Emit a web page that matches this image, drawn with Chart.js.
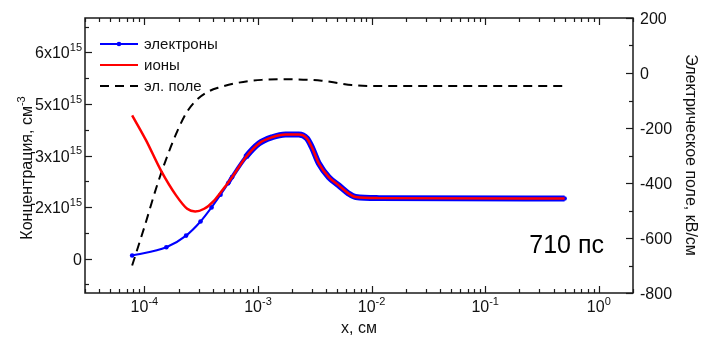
<!DOCTYPE html>
<html>
<head>
<meta charset="utf-8">
<script src="https://cdn.jsdelivr.net/npm/chart.js@4.4.1/dist/chart.umd.min.js"></script>
<style>
  html, body { margin: 0; padding: 0; background: #fff; }
  canvas { display: block; }
</style>
</head>
<body>
<canvas id="chart" width="701" height="344"></canvas>
<script>
// electrons: separate dots near the surface, then they merge with the ion curve
var xElectronsHead = [7.8e-5, 1.56e-4, 2.33e-4, 3.12e-4, 3.9e-4, 4.68e-4, 5.46e-4];
var electronsHead  = [0.09e15, 0.33e15, 0.67e15, 1.08e15, 1.49e15, 1.86e15, 2.19e15];

// ions before the two curves join
var xIonsHead = [7.8e-5, 1.035e-4, 1.40e-4, 1.90e-4, 2.38e-4, 2.80e-4, 3.36e-4, 4.11e-4, 4.83e-4];
var ionsHead  = [4.17e15, 3.44e15, 2.56e15, 1.84e15, 1.45e15, 1.37e15, 1.45e15, 1.69e15, 1.98e15];

// common part (quasi-neutral plasma)
var xTail = [5.91e-4, 7.8e-4, 1.02e-3, 1.33e-3, 1.75e-3, 2.29e-3, 2.69e-3, 2.98e-3, 3.43e-3,
             4.2e-3, 5.14e-3, 6.29e-3, 7.24e-3, 1.15e-2, 0.5];
var tailValues = [2.37e15, 2.95e15, 3.35e15, 3.53e15, 3.61e15, 3.61e15, 3.50e15, 3.24e15, 2.77e15,
                  2.37e15, 2.13e15, 1.89e15, 1.79e15, 1.76e15, 1.75e15];

// electric field, kV/cm
var xField = [7.8e-5, 1.0e-4, 1.31e-4, 1.71e-4, 2.03e-4, 2.38e-4, 2.9e-4, 3.72e-4, 4.6e-4, 6.37e-4,
              1.08e-3, 1.87e-3, 3.64e-3, 5.14e-3, 6.68e-3, 9.4e-3, 0.5];
var field  = [-700, -560, -401, -268, -195, -140, -97, -66, -52, -37,
              -25, -23, -28, -37, -44, -47, -47];

// axes
var xMajorTicks = [1e-4, 1e-3, 1e-2, 1e-1, 1];
var xTickLabels = ['-4', '-3', '-2', '-1', '0'];
var yTicks = [0, 1.5e15, 3e15, 4.5e15, 6e15];
var yTickLabels = [['0', ''], ['2x10', '15'], ['3x10', '15'], ['5x10', '15'], ['6x10', '15']];
var yMinorTicks = [-0.75e15, 0.75e15, 2.25e15, 3.75e15, 5.25e15, 6.75e15];
var y2Ticks = [200, 0, -200, -400, -600, -800];
var y2MinorTicks = [100, -100, -300, -500, -700];

var labels = ['электроны', 'ионы', 'эл. поле'];
var timeLabel = '710 пс';

var FONT = '"Liberation Sans", Arial, sans-serif';

function toPoints(xs, ys) {
  return xs.map(function (x, i) { return { x: x, y: ys[i] }; });
}

// text with an optional superscript; align: 'left' | 'right' | 'center'
function supText(ctx, base, sup, x, y, align, size) {
  var supSize = Math.round(size * 0.7);
  ctx.font = size + 'px ' + FONT;
  var wb = ctx.measureText(base).width;
  ctx.font = supSize + 'px ' + FONT;
  var ws = sup ? ctx.measureText(sup).width : 0;
  var w = wb + ws;
  var x0 = align === 'right' ? x - w : align === 'center' ? x - w / 2 : x;
  ctx.textAlign = 'left';
  ctx.textBaseline = 'alphabetic';
  ctx.font = size + 'px ' + FONT;
  ctx.fillText(base, x0, y);
  if (sup) {
    ctx.font = supSize + 'px ' + FONT;
    ctx.fillText(sup, x0 + wb, y - size * 0.45);
  }
  return w;
}

var framePlugin = {
  id: 'frame',
  afterDraw: function (chart) {
    var ctx = chart.ctx, a = chart.chartArea;
    var x = chart.scales.x, y = chart.scales.y, y2 = chart.scales.y2;
    ctx.save();
    ctx.strokeStyle = '#1a1a1a';
    ctx.fillStyle = '#111';
    ctx.lineWidth = 1.5;
    ctx.strokeRect(a.left, a.top, a.right - a.left, a.bottom - a.top);

    ctx.lineWidth = 1.2;
    // x ticks, bottom and top, pointing inwards
    for (var k = -5; k <= 0; k++) {
      for (var m = 1; m <= 9; m++) {
        var v = m * Math.pow(10, k);
        if (v < x.min || v > x.max) continue;
        var px = Math.round(x.getPixelForValue(v)) + 0.5;
        var len = m === 1 ? 7 : 4;
        ctx.beginPath();
        ctx.moveTo(px, a.bottom); ctx.lineTo(px, a.bottom - len);
        ctx.moveTo(px, a.top); ctx.lineTo(px, a.top + len);
        ctx.stroke();
      }
    }
    // side ticks
    function hTick(scale, v, len, fromRight) {
      var py = Math.round(scale.getPixelForValue(v)) + 0.5;
      ctx.beginPath();
      if (fromRight) { ctx.moveTo(a.right, py); ctx.lineTo(a.right - len, py); }
      else { ctx.moveTo(a.left, py); ctx.lineTo(a.left + len, py); }
      ctx.stroke();
    }
    yTicks.forEach(function (v) { hTick(y, v, 7, false); });
    yMinorTicks.forEach(function (v) { hTick(y, v, 4, false); });
    y2Ticks.forEach(function (v) { hTick(y2, v, 7, true); });
    y2MinorTicks.forEach(function (v) { hTick(y2, v, 4, true); });

    // tick labels
    xMajorTicks.forEach(function (v, i) {
      supText(ctx, '10', xTickLabels[i], x.getPixelForValue(v), 312, 'center', 16);
    });
    yTicks.forEach(function (v, i) {
      supText(ctx, yTickLabels[i][0], yTickLabels[i][1], a.left - 3, y.getPixelForValue(v) + 6, 'right', 16);
    });
    y2Ticks.forEach(function (v) {
      supText(ctx, String(v), '', a.right + 7, y2.getPixelForValue(v) + 6, 'left', 16);
    });

    // axis titles
    supText(ctx, 'x, см', '', (a.left + a.right) / 2, 333, 'center', 16);
    ctx.save();
    ctx.translate(32, 168);
    ctx.rotate(-Math.PI / 2);
    supText(ctx, 'Концентрация, см', '-3', 0, 0, 'center', 16);
    ctx.restore();
    ctx.save();
    ctx.translate(686, 155);
    ctx.rotate(Math.PI / 2);
    supText(ctx, 'Электрическое поле, кВ/см', '', 0, 0, 'center', 16);
    ctx.restore();

    // legend, styled from the datasets
    var ds = chart.data.datasets;
    var order = [1, 0, 2];
    order.forEach(function (di, row) {
      var d = ds[di], ly = 44 + row * 21;
      ctx.save();
      ctx.strokeStyle = d.borderColor;
      ctx.lineWidth = 2;
      ctx.setLineDash(d.borderDash || []);
      ctx.beginPath();
      ctx.moveTo(100, ly); ctx.lineTo(138, ly);
      ctx.stroke();
      if (d.pointRadius) {
        ctx.fillStyle = d.borderColor;
        ctx.beginPath();
        ctx.arc(119, ly, 2.3, 0, Math.PI * 2);
        ctx.fill();
      }
      ctx.restore();
      supText(ctx, d.label, '', 144, ly + 5, 'left', 15);
    });

    ctx.fillStyle = '#000';
    supText(ctx, timeLabel, '', 604, 253, 'right', 25);
    ctx.restore();
  }
};

new Chart(document.getElementById('chart'), {
  type: 'line',
  data: {
    datasets: [{
      label: labels[1],
      data: toPoints(xIonsHead.concat(xTail), ionsHead.concat(tailValues)),
      borderColor: '#ff0000',
      borderWidth: 2.5,
      pointRadius: 0,
      cubicInterpolationMode: 'monotone',
      yAxisID: 'y',
      order: 0
    }, {
      label: labels[0],
      data: toPoints(xElectronsHead.concat(xTail), electronsHead.concat(tailValues)),
      borderColor: '#0000ff',
      backgroundColor: '#0000ff',
      borderWidth: 2,
      pointRadius: 2.3,
      pointBorderWidth: 0,
      pointBackgroundColor: '#0000ff',
      cubicInterpolationMode: 'monotone',
      segment: {
        // dense mesh points merge into a thick band
        borderWidth: function (c) {
          var x0 = c.p0.parsed.x;
          return x0 < 5.4e-4 ? 2 : x0 < 7e-4 ? 4 : 6;
        }
      },
      yAxisID: 'y',
      order: 1
    }, {
      label: labels[2],
      data: toPoints(xField, field),
      borderColor: '#000000',
      borderWidth: 2,
      borderDash: [9, 6],
      pointRadius: 0,
      cubicInterpolationMode: 'monotone',
      yAxisID: 'y2',
      order: 2
    }]
  },
  options: {
    responsive: false,
    animation: false,
    devicePixelRatio: 1,
    layout: { padding: { left: 85, right: 68, top: 18, bottom: 51 } },
    plugins: { legend: { display: false }, tooltip: { enabled: false } },
    scales: {
      x: { type: 'logarithmic', min: 3e-5, max: 2, display: false },
      y: { type: 'linear', min: -1e15, max: 7e15, display: false },
      y2: { type: 'linear', min: -800, max: 200, display: false }
    }
  },
  plugins: [framePlugin]
});
</script>
</body>
</html>
